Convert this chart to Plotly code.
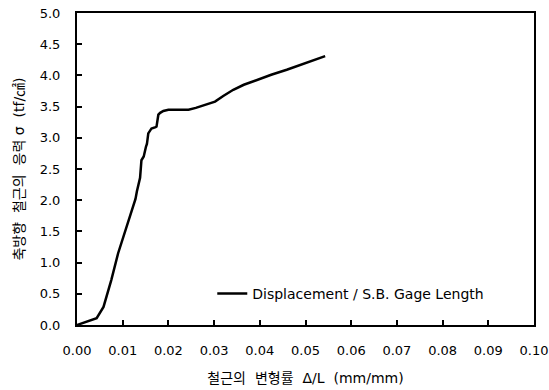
import plotly.graph_objects as go

strain = [0.0, 0.0043, 0.0058, 0.0075, 0.0090, 0.0110, 0.0128, 0.0131, 0.0138, 0.0141,
          0.0146, 0.0151, 0.0153, 0.0156, 0.0163, 0.0172, 0.0174, 0.0178, 0.0182, 0.0189,
          0.0200, 0.0211, 0.0230, 0.0244, 0.0260, 0.0269, 0.0290, 0.0302, 0.0320, 0.0342,
          0.0365, 0.0393, 0.0425, 0.0459, 0.0490, 0.0517, 0.0543]
stress = [0.0, 0.11, 0.29, 0.72, 1.15, 1.62, 2.02, 2.14, 2.36, 2.64,
          2.70, 2.86, 2.90, 3.07, 3.15, 3.17, 3.18, 3.37, 3.40, 3.43,
          3.45, 3.45, 3.45, 3.45, 3.48, 3.50, 3.55, 3.58, 3.67, 3.77,
          3.85, 3.93, 4.01, 4.09, 4.17, 4.25, 4.31]

x_ticks = [0.00, 0.01, 0.02, 0.03, 0.04, 0.05, 0.06, 0.07, 0.08, 0.09, 0.10]
y_ticks = [0.0, 0.5, 1.0, 1.5, 2.0, 2.5, 3.0, 3.5, 4.0, 4.5, 5.0]

font_fam = "DejaVu Sans, Noto Sans CJK KR, sans-serif"
nb = "\u00a0"
x_title = f"철근의{nb} 변형률{nb} Δ/L{nb} (mm/mm)"
y_title = f"축방향{nb} 철근의{nb} 응력 σ{nb} (tf/㎠)"

fig = go.Figure()
fig.add_trace(go.Scatter(
    x=strain, y=stress, mode="lines",
    line=dict(color="black", width=2.5),
    name="Displacement / S.B. Gage Length",
))

fig.update_layout(
    width=549, height=390,
    margin=dict(l=77, r=15, t=13, b=65),
    paper_bgcolor="white", plot_bgcolor="white",
    font=dict(family=font_fam, size=13, color="black"),
    showlegend=True,
    legend=dict(x=0.296, y=0.1, xanchor="left", yanchor="middle",
                bgcolor="rgba(0,0,0,0)", font=dict(size=14)),
    xaxis=dict(
        range=[0, 0.10], tickvals=x_ticks, ticktext=[f"{v:.2f}" for v in x_ticks],
        ticks="inside", ticklen=5, tickcolor="black", tickwidth=1.5,
        showline=True, linecolor="black", linewidth=2, mirror=True,
        showgrid=False, zeroline=False, ticklabelstandoff=12,
        tickfont=dict(size=13), automargin=False,
        title=dict(text=x_title, standoff=17, font=dict(size=14)),
    ),
    yaxis=dict(
        range=[0, 5.0], tickvals=y_ticks, ticktext=[f"{v:.1f}" for v in y_ticks],
        ticks="inside", ticklen=5, tickcolor="black", tickwidth=1.5,
        showline=True, linecolor="black", linewidth=2, mirror=True,
        showgrid=False, zeroline=False, ticklabelstandoff=12,
        tickfont=dict(size=13), automargin=False,
        title=dict(text=y_title, standoff=12, font=dict(size=14)),
    ),
)

fig.write_html("out.html")
